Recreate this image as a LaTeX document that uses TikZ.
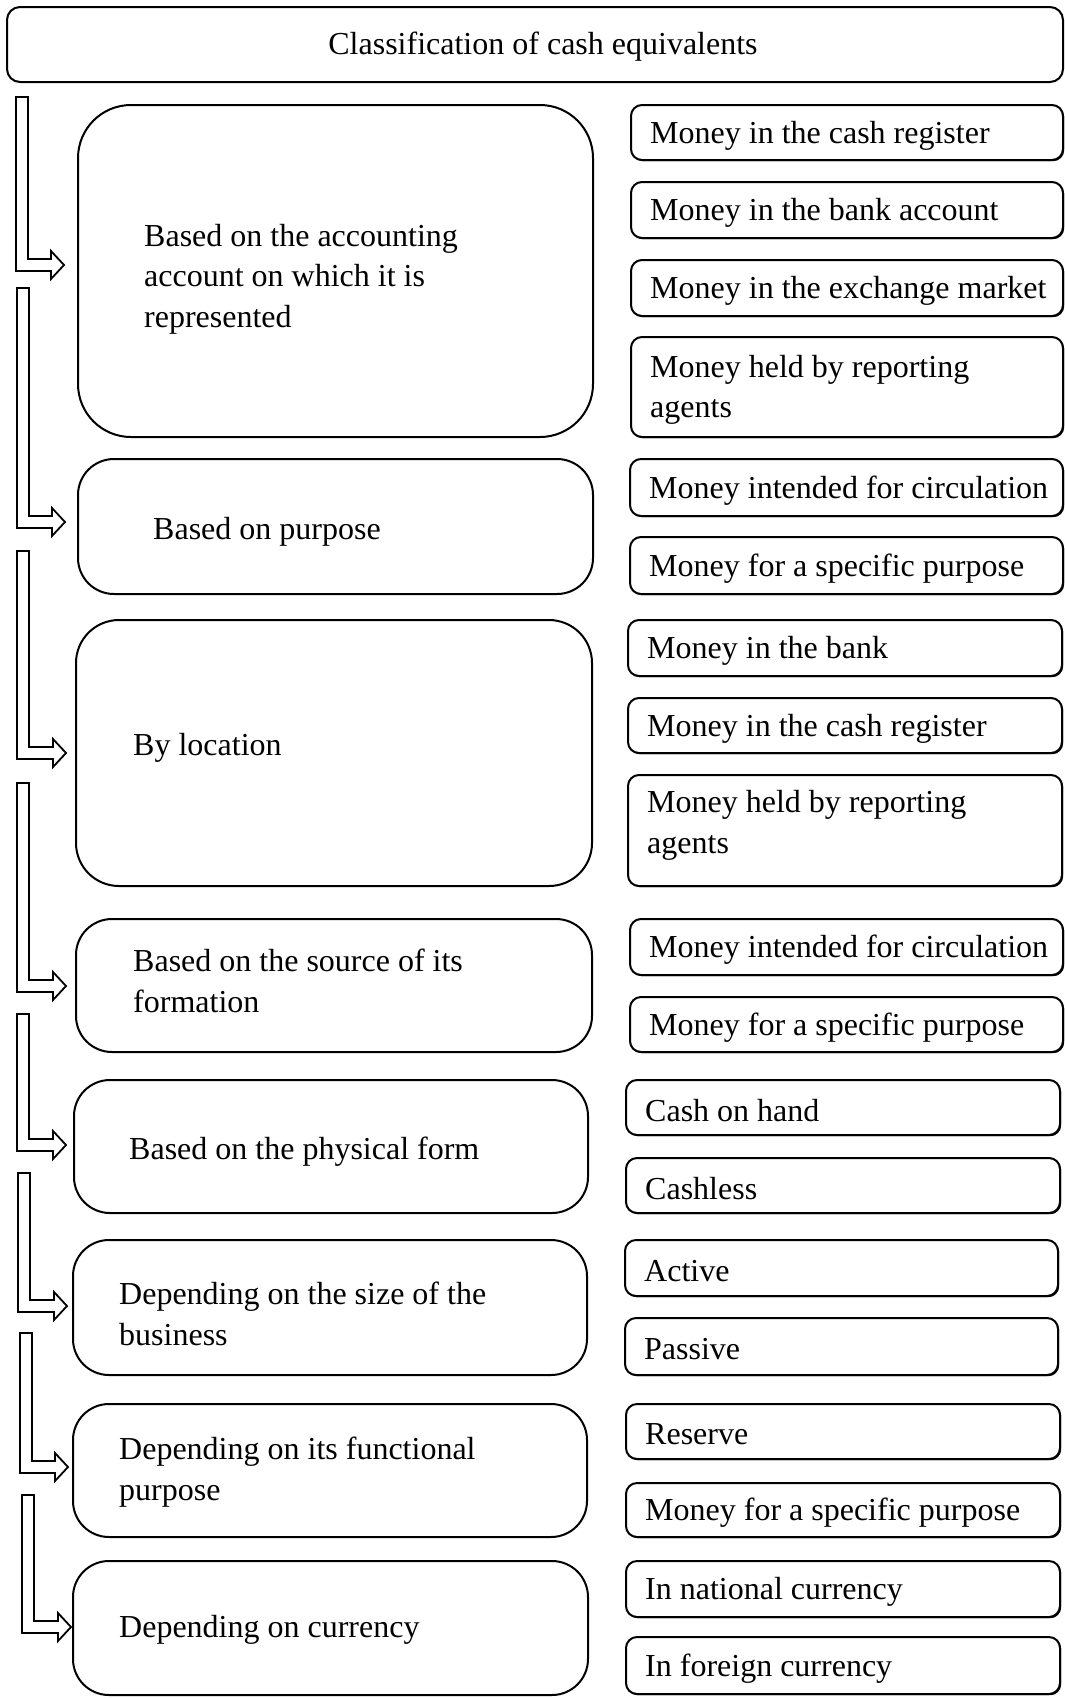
\documentclass[tikz,border=0pt]{standalone}
\usepackage{fontspec}
\setmainfont{Liberation Serif}
\usetikzlibrary{shadows}
\tikzset{
  txt/.style={inner sep=0pt, anchor=west, align=left, yshift=-3pt, font=\fontsize{32}{40.5}\selectfont},
  bigbox/.style={draw, line width=2pt, fill=white, inner sep=0pt},
  smallbox/.style={draw, line width=2pt, fill=white, inner sep=0pt, rounded corners=11pt,
     drop shadow={shadow xshift=1.2pt, shadow yshift=-1.2pt, opacity=1, fill=black}},
  blockarr/.style={draw, line width=1.8pt, fill=white, line join=miter}
}
% box by corners: name, x1, y1, x2, y2, style
\newcommand{\cbox}[6]{%
  \node[#6, minimum width={(#4-#2)*1pt}, minimum height={(#5-#3)*1pt}] (#1) at ({(#2+#4)/2},{(#3+#5)/2}) {};}
% arrow: x0, ytop, ycentre, tip
\newcommand{\blkarrow}[4]{%
  \path[blockarr] (#1,#2) -- ({#1+12},#2) -- ({#1+12},{#3-6}) -- ({#4-13},{#3-6}) -- ({#4-13},{#3-14})
     -- (#4,#3) -- ({#4-13},{#3+14}) -- ({#4-13},{#3+6}) -- (#1,{#3+6}) -- cycle;}
\begin{document}
\begin{tikzpicture}[x=1pt,y=-1pt]
\useasboundingbox[fill=white] (0,0) rectangle (1065,1698);

% title
\cbox{top}{7}{7}{1063}{82}{bigbox, rounded corners=13pt}
\node[txt, anchor=center] (toptxt) at (543,44) {Classification of cash equivalents};

% left boxes
\cbox{b1}{78}{105}{593}{437}{bigbox, rounded corners=53pt}
\cbox{b2}{78}{459}{593}{594}{bigbox, rounded corners=36pt}
\cbox{b3}{76}{620}{592}{886}{bigbox, rounded corners=43pt}
\cbox{b4}{76}{919}{592}{1052}{bigbox, rounded corners=36pt}
\cbox{b5}{74}{1080}{588}{1213}{bigbox, rounded corners=36pt}
\cbox{b6}{73}{1240}{587}{1375}{bigbox, rounded corners=36pt}
\cbox{b7}{73}{1404}{587}{1537}{bigbox, rounded corners=36pt}
\cbox{b8}{73}{1561}{588}{1695}{bigbox, rounded corners=36pt}

\node[txt] (t1) at (144,276) {Based on the accounting\\account on which it is\\represented};
\node[txt] (t2) at (153,529) {Based on purpose};
\node[txt] (t3) at (133,745) {By location};
\node[txt] (t4) at (133,978) {Based on the source of its\\formation};
\node[txt] (t5) at (129,1149) {Based on the physical form};
\node[txt] (t6) at (119,1311) {Depending on the size of the\\business};
\node[txt] (t7) at (119,1469) {Depending on its functional\\purpose};
\node[txt] (t8) at (119,1627) {Depending on currency};

% block arrows
\blkarrow{16}{97}{265}{64}
\blkarrow{17}{288}{522}{65}
\blkarrow{17}{551}{753}{66}
\blkarrow{17}{783}{986}{66}
\blkarrow{17}{1014}{1145}{66}
\blkarrow{18}{1173}{1306}{67}
\blkarrow{20}{1333}{1467}{68}
\blkarrow{22}{1495}{1627}{71}

% right boxes
\cbox{r1}{631}{105}{1063}{160}{smallbox}
\cbox{r2}{631}{182}{1063}{238}{smallbox}
\cbox{r3}{631}{260}{1063}{316}{smallbox}
\cbox{r4}{631}{337}{1063}{437}{smallbox}
\cbox{r5}{630}{459}{1063}{516}{smallbox}
\cbox{r6}{630}{537}{1063}{594}{smallbox}
\cbox{r7}{628}{620}{1062}{676}{smallbox}
\cbox{r8}{628}{698}{1062}{753}{smallbox}
\cbox{r9}{628}{775}{1062}{886}{smallbox}
\cbox{r10}{630}{919}{1063}{975}{smallbox}
\cbox{r11}{630}{997}{1063}{1052}{smallbox}
\cbox{r12}{626}{1080}{1060}{1135}{smallbox}
\cbox{r13}{626}{1158}{1060}{1213}{smallbox}
\cbox{r14}{625}{1240}{1058}{1296}{smallbox}
\cbox{r15}{625}{1318}{1058}{1375}{smallbox}
\cbox{r16}{626}{1404}{1060}{1459}{smallbox}
\cbox{r17}{626}{1483}{1060}{1537}{smallbox}
\cbox{r18}{626}{1561}{1060}{1617}{smallbox}
\cbox{r19}{626}{1637}{1060}{1694}{smallbox}

\node[txt] (s1) at ([xshift=20pt]r1.west) {Money in the cash register};
\node[txt] (s2) at ([xshift=20pt]r2.west) {Money in the bank account};
\node[txt] (s3) at ([xshift=20pt]r3.west) {Money in the exchange market};
\node[txt] (s4) at ([xshift=20pt]r4.west) {Money held by reporting\\agents};
\node[txt] (s5) at ([xshift=20pt]r5.west) {Money intended for circulation};
\node[txt] (s6) at ([xshift=20pt]r6.west) {Money for a specific purpose};
\node[txt] (s7) at ([xshift=20pt]r7.west) {Money in the bank};
\node[txt] (s8) at ([xshift=20pt]r8.west) {Money in the cash register};
\node[txt] (s9) at ([xshift=20pt,yshift=8pt]r9.west) {Money held by reporting\\agents};
\node[txt] (s10) at ([xshift=20pt]r10.west) {Money intended for circulation};
\node[txt] (s11) at ([xshift=20pt]r11.west) {Money for a specific purpose};
\node[txt] (s12) at ([xshift=20pt]r12.west) {Cash on hand};
\node[txt] (s13) at ([xshift=20pt]r13.west) {Cashless};
\node[txt] (s14) at ([xshift=20pt]r14.west) {Active};
\node[txt] (s15) at ([xshift=20pt]r15.west) {Passive};
\node[txt] (s16) at ([xshift=20pt]r16.west) {Reserve};
\node[txt] (s17) at ([xshift=20pt]r17.west) {Money for a specific purpose};
\node[txt] (s18) at ([xshift=20pt]r18.west) {In national currency};
\node[txt] (s19) at ([xshift=20pt]r19.west) {In foreign currency};
\end{tikzpicture}
\end{document}
